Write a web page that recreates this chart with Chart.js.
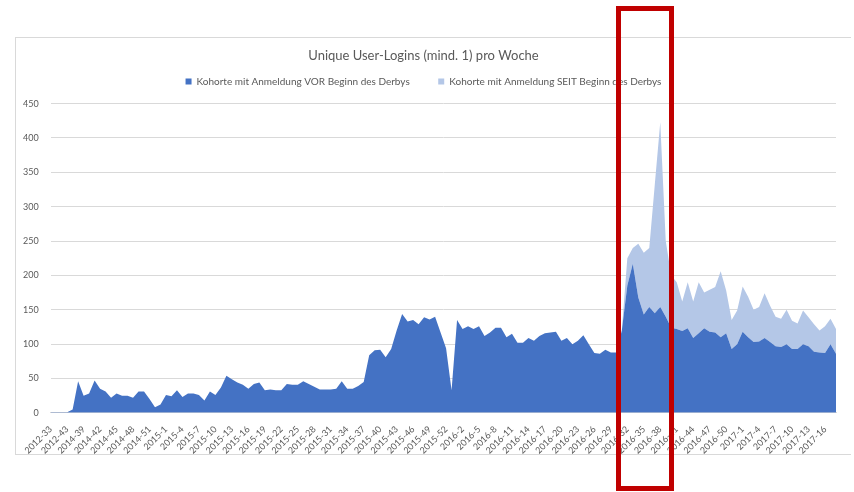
<!DOCTYPE html>
<html>
<head>
<meta charset="utf-8">
<script src="https://cdn.jsdelivr.net/npm/chart.js@4/dist/chart.umd.min.js"></script>
<style>
  html, body { margin: 0; padding: 0; background: #fff; }
  body { width: 854px; height: 492px; position: relative; overflow: hidden; }
  #frame { position: absolute; left: 15px; top: 37px; width: 836px; height: 418px; border: 1px solid #d9d9d9; border-right: none; box-sizing: border-box; }
  #wrap { position: absolute; left: 11px; top: 38px; width: 840px; height: 421px; }
  #marker { position: absolute; left: 616px; top: 6px; width: 58px; height: 485px; border: 5px solid #c00000; box-sizing: border-box; pointer-events: none; }
</style>
</head>
<body>
<div id="frame"></div>
<div id="wrap"><canvas id="chart"></canvas></div>
<div id="marker"></div>
<script>
// Kalenderwochen (Excel-Wochennummern), Beschriftung jede 3. Woche
const earlyWeeks = ['2012-33', '2012-37', '2012-40', '2012-43', '2012-47', '2014-38'];
const weeks2014 = [39, 40, 41, 42, 43, 44, 45, 46, 47, 48, 49, 50, 51, 52, 53];
const weeks2015 = Array.from({ length: 53 }, (_, i) => i + 1);
const weeks2016 = Array.from({ length: 52 }, (_, i) => i + 1);
const weeks2017 = Array.from({ length: 18 }, (_, i) => i + 1);

const labels = earlyWeeks
    .concat(weeks2014.map(w => '2014-' + w))
    .concat(weeks2015.map(w => '2015-' + w))
    .concat(weeks2016.map(w => '2016-' + w))
    .concat(weeks2017.map(w => '2017-' + w));

// Kohorte VOR Beginn des Derbys
const cohortBefore = [
    1, 1, 1, 1, 5, 46, 25, 28, 47, 35,
    31, 22, 28, 25, 25, 22, 31, 31, 20, 8,
    12, 26, 24, 33, 23, 28, 28, 26, 18, 31,
    26, 37, 54, 49, 44, 41, 35, 42, 44, 33,
    34, 33, 33, 42, 41, 41, 46, 42, 38, 34,
    34, 34, 35, 46, 35, 35, 39, 45, 84, 91,
    92, 81, 93, 120, 144, 133, 135, 129, 139, 136,
    140, 117, 94, 33, 135, 122, 126, 122, 126, 112,
    117, 124, 124, 110, 115, 102, 102, 109, 105, 112,
    116, 117, 118, 105, 109, 100, 105, 113, 100, 87,
    86, 92, 88, 88, 120, 185, 217, 168, 143, 154,
    145, 154, 140, 124, 122, 119, 123, 109, 116, 123,
    118, 117, 110, 116, 93, 100, 118, 110, 103, 104,
    109, 103, 97, 96, 100, 93, 93, 100, 97, 89,
    88, 87, 100, 86
];

// Kohorte SEIT Beginn des Derbys (ab 2016-31)
const cohortSince = new Array(104).fill(0).concat([
    0, 40, 23, 78, 90, 86, 187, 269, 110, 76,
    68, 43, 67, 53, 74, 52, 61, 66, 96, 62,
    42, 49, 66, 59, 47, 50, 65, 53, 43, 41,
    50, 41, 37, 49, 42, 40, 32, 39, 37, 36
]);

const yTicks = [0, 50, 100, 150, 200, 250, 300, 350, 400, 450];

Chart.defaults.font.family = 'Lato, "Liberation Sans", sans-serif';
Chart.defaults.color = '#595959';

// etwas Abstand zwischen Legende und Diagramm
const legendGap = {
    id: 'legendGap',
    beforeInit(chart) {
        const fit = chart.legend.fit;
        chart.legend.fit = function () {
            fit.call(this);
            this.height += 7;
        };
    },
};

const data = {
    labels,
    datasets: [
        {
            label: 'Kohorte mit Anmeldung VOR Beginn des Derbys',
            data: cohortBefore,
            backgroundColor: '#4472c4',
            borderColor: '#4472c4',
            borderWidth: 0,
            pointRadius: 0,
            tension: 0,
            fill: 'origin',
        },
        {
            label: 'Kohorte mit Anmeldung SEIT Beginn des Derbys',
            data: cohortSince,
            backgroundColor: '#b4c7e7',
            borderColor: '#b4c7e7',
            borderWidth: 0,
            pointRadius: 0,
            tension: 0,
            fill: '-1',
        },
    ],
};

const config = {
    type: 'line',
    data: data,
    plugins: [legendGap],
    options: {
        responsive: true,
        maintainAspectRatio: false,
        animation: false,
        layout: { padding: { left: 0, right: 15, top: 6, bottom: 0 } },
        plugins: {
            title: {
                display: true,
                text: 'Unique User-Logins (mind. 1) pro Woche',
                color: '#595959',
                font: { size: 13, weight: 'normal' },
                padding: { top: 4, bottom: 7 },
            },
            legend: {
                position: 'top',
                labels: {
                    boxWidth: 6,
                    boxHeight: 6,
                    padding: 6,
                    font: { size: 10 },
                    color: '#595959',
                    generateLabels: chart => {
                        const items = Chart.defaults.plugins.legend.labels.generateLabels(chart);
                        // Excel setzt die Einträge weit auseinander
                        items.forEach((item, i) => {
                            if (i < items.length - 1) item.text += '\u2003\u2003\u2003';
                        });
                        return items;
                    },
                },
            },
            tooltip: { enabled: false },
        },
        scales: {
            x: {
                offset: false,
                grid: { display: false },
                border: { color: '#d9d9d9' },
                ticks: {
                    autoSkip: false,
                    minRotation: 45,
                    maxRotation: 45,
                    font: { size: 9 },
                    color: '#595959',
                    callback: function (value, index) {
                        return index % 3 === 0 ? this.getLabelForValue(value) : '';
                    },
                },
            },
            y: {
                stacked: true,
                min: 0,
                max: 450,
                afterBuildTicks: axis => { axis.ticks = yTicks.map(v => ({ value: v })); },
                grid: { color: '#d9d9d9', drawTicks: false },
                border: { display: false },
                ticks: { font: { size: 9 }, color: '#595959', padding: 12 },
            },
        },
    },
};

new Chart(document.getElementById('chart'), config);
</script>
</body>
</html>
